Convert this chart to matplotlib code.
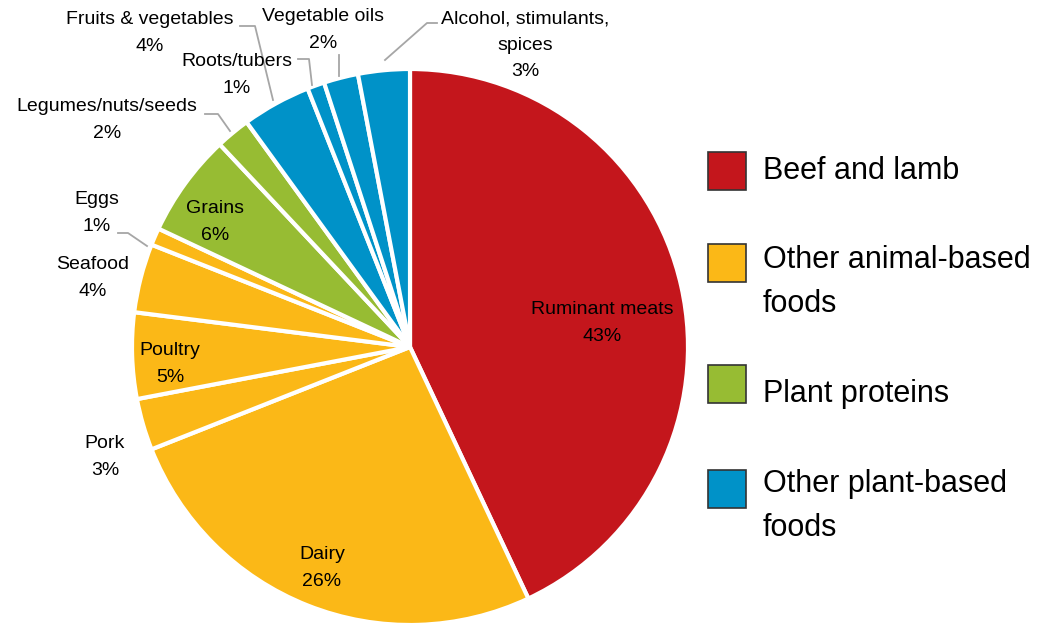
import matplotlib
matplotlib.use("Agg")
import matplotlib.pyplot as plt
from matplotlib.patches import Rectangle
from matplotlib import font_manager

# pick a narrow sans if available, else regular Liberation Sans at a reduced size
narrow = [f.name for f in font_manager.fontManager.ttflist
          if ('Narrow' in f.name or 'Condensed' in f.name) and 'Sans' in f.name]
if any(n == 'Liberation Sans Narrow' for n in narrow):
    FAM, LBL, LEG = 'Liberation Sans Narrow', 15, 26
else:
    FAM, LBL, LEG = 'Liberation Sans', 14, 22
plt.rcParams['font.family'] = [FAM, 'DejaVu Sans']

# ---- data ----
categories = ["Ruminant meats", "Dairy", "Pork", "Poultry", "Seafood", "Eggs",
              "Grains", "Legumes/nuts/seeds", "Fruits & vegetables", "Roots/tubers",
              "Vegetable oils", "Alcohol, stimulants,\nspices"]
shares = [43, 26, 3, 5, 4, 1, 6, 2, 4, 1, 2, 3]
groups = [0, 1, 1, 1, 1, 1, 2, 2, 3, 3, 3, 3]
group_names = ["Beef and lamb", "Other animal-based\nfoods", "Plant proteins",
               "Other plant-based\nfoods"]
group_colors = ["#C4161C", "#FBB817", "#97BC33", "#0092C8"]

# label placement (pixel space of the 1044x625 canvas) and leader lines
label_px = [(602, 323), (322, 568), (105, 457), (170, 364), (93, 278), (97, 213),
            (215, 222), (107, 120), (150, 33), (237, 75), (323, 30), (525, 45)]
leaders = {5: [(118, 233), (128, 233), (147, 246)],
           7: [(205, 114), (218, 114), (230, 131)],
           8: [(240, 26), (255, 26), (273, 100)],
           9: [(298, 59), (309, 59), (312, 85)],
           10: [(339, 55), (339, 76)],
           11: [(437, 23), (427, 23), (385, 60)]}

W, H = 1044, 625
fig = plt.figure(figsize=(W / 100, H / 100), dpi=100)
cx, cy, r = 410, 347, 278
ax = fig.add_axes([(cx - r) / W, (H - cy - r) / H, 2 * r / W, 2 * r / H])

colors = [group_colors[g] for g in groups]
ax.pie(shares, colors=colors, startangle=90, counterclock=False, radius=1,
       center=(0, 0), wedgeprops=dict(edgecolor='white', linewidth=3),
       frame=False)
ax.set_xlim(-1, 1)
ax.set_ylim(-1, 1)
ax.set_aspect('equal')
ax.axis('off')


def px2d(p):
    return ((p[0] - cx) / r, (cy - p[1]) / r)


ls_lbl = 1.15 * 26 / 21 * 15 / LBL * 1.13
for name, val, pos in zip(categories, shares, label_px):
    x, y = px2d(pos)
    ax.text(x, y, f"{name}\n{val}%", ha='center', va='center', fontsize=LBL,
            multialignment='center', linespacing=ls_lbl, clip_on=False)

for idx, pts in leaders.items():
    d = [px2d(p) for p in pts]
    ax.plot([p[0] for p in d], [p[1] for p in d], color='#A6A6A6', lw=1.3,
            clip_on=False)

# legend
box_y = [171, 263, 384, 489]
base_y = [179, 268, 402, 492]
line_gap = 44
ls_leg = 1.2 * 44 / 40 * 26 / LEG * 44 / 43
for name, col, yc, yb in zip(group_names, group_colors, box_y, base_y):
    fig.patches.append(Rectangle((708 / W, (H - yc - 19) / H), 38 / W, 38 / H,
                                 transform=fig.transFigure, facecolor=col,
                                 edgecolor='#333333', lw=1.2))
    n_lines = name.count("\n")
    fig.text(763 / W, (H - yb - line_gap * n_lines) / H, name, fontsize=LEG,
             ha='left', va='baseline', linespacing=ls_leg)

fig.savefig("out.png", dpi=100)
